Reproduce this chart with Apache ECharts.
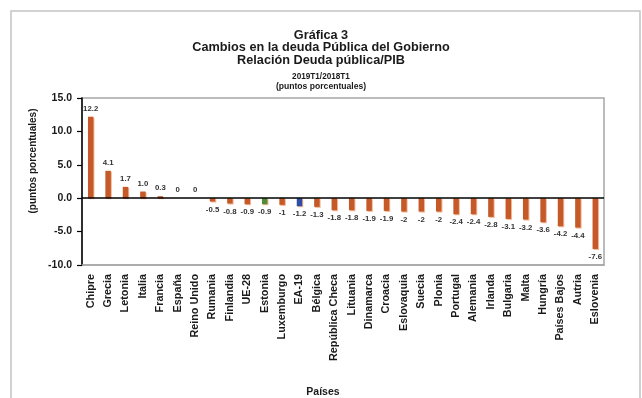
<!DOCTYPE html>
<html>
<head>
<meta charset="utf-8">
<script src="https://cdn.jsdelivr.net/npm/echarts@6/dist/echarts.min.js"></script>
<style>
  html, body { margin: 0; padding: 0; background: #fff; }
  #chart { width: 642px; height: 398px; }
</style>
</head>
<body>
<div id="chart"></div>
<script>
// Countries, ordered from largest increase to largest decrease
const countries = [
  'Chipre', 'Grecia', 'Letonia', 'Italia', 'Francia', 'España', 'Reino Unido',
  'Rumania', 'Finlandia', 'UE-28', 'Estonia', 'Luxemburgo', 'EA-19', 'Bélgica',
  'República Checa', 'Lituania', 'Dinamarca', 'Croacia', 'Eslovaquia', 'Suecia',
  'Plonia', 'Portugal', 'Alemania', 'Irlanda', 'Bulgaria', 'Malta', 'Hungría',
  'Países Bajos', 'Autria', 'Eslovenia'
];

// Change in debt/GDP ratio (percentage points), kept as printed
const changeText = [
  '12.2', '4.1', '1.7', '1.0', '0.3', '0', '0',
  '-0.5', '-0.8', '-0.9', '-0.9', '-1', '-1.2', '-1.3',
  '-1.8', '-1.8', '-1.9', '-1.9', '-2', '-2',
  '-2', '-2.4', '-2.4', '-2.8', '-3.1', '-3.2', '-3.6',
  '-4.2', '-4.4', '-7.6'
];
const changeValues = changeText.map(Number);

// Y axis range and step
const yMin = -10;
const yMax = 15;
const yStep = 5;

// Aggregates get their own colours
const highlightColors = { 'Estonia': '#548A36', 'EA-19': '#2E4DA3' };
const barColor = '#C55A28';

const chart = echarts.init(document.getElementById('chart'), null, { renderer: 'canvas' });

const barData = changeValues.map((v, i) => {
  const c = highlightColors[countries[i]] || barColor;
  return {
    value: v,
    itemStyle: { color: c },
    label: { position: v < 0 ? 'bottom' : 'top' }
  };
});

const boldFont = 'Liberation Sans, Arial, sans-serif';

chart.setOption({
  animation: false,
  backgroundColor: '#ffffff',
  title: [
    {
      text: 'Gráfica 3\nCambios en la deuda Pública del Gobierno\nRelación Deuda pública/PIB',
      left: 'center',
      top: 24,
      textStyle: { fontFamily: boldFont, fontWeight: 'bold', fontSize: 12.7, lineHeight: 12.6, color: '#1a1a1a' }
    },
    {
      text: '{a|2019T1/2018T1}\n{b|(puntos porcentuales)}',
      left: 'center',
      top: 66,
      textStyle: {
        rich: {
          a: { fontFamily: boldFont, fontWeight: 'bold', fontSize: 8.2, lineHeight: 10.5, color: '#1a1a1a', align: 'center' },
          b: { fontFamily: boldFont, fontWeight: 'bold', fontSize: 8.6, lineHeight: 10.5, color: '#1a1a1a', align: 'center' }
        }
      }
    }
  ],
  graphic: [
    {
      type: 'polyline',
      silent: true,
      shape: { points: [[11, 400], [11, 11], [640, 11], [640, 400]] },
      style: { stroke: '#c4c4c4', lineWidth: 1.5, fill: null }
    },
    {
      type: 'text',
      x: 33, y: 161,
      rotation: Math.PI / 2,
      style: {
        text: '(puntos porcentuales)',
        textAlign: 'center', textVerticalAlign: 'middle',
        font: 'bold 10px ' + boldFont, fill: '#1a1a1a'
      }
    },
    {
      type: 'text',
      x: 323, y: 392,
      style: {
        text: 'Países',
        textAlign: 'center', textVerticalAlign: 'middle',
        font: 'bold 10.5px ' + boldFont, fill: '#1a1a1a'
      }
    }
  ],
  grid: {
    left: 82, right: 38, top: 98, bottom: 133,
    show: true, borderColor: '#a6a6a6', borderWidth: 1.5, backgroundColor: 'transparent'
  },
  xAxis: {
    type: 'category',
    data: countries,
    axisLine: { onZero: false, lineStyle: { color: '#a6a6a6', width: 1.5 } },
    axisTick: { show: false },
    axisLabel: {
      rotate: 90,
      interval: 0,
      margin: 9,
      fontFamily: boldFont,
      fontWeight: 'bold',
      fontSize: 10.8,
      color: '#1a1a1a'
    },
    splitLine: { show: false }
  },
  yAxis: {
    type: 'value',
    min: yMin,
    max: yMax,
    interval: yStep,
    axisLine: { show: true, lineStyle: { color: '#000', width: 1.5 } },
    axisTick: { show: true, inside: false, length: 5, lineStyle: { color: '#000', width: 1.2 } },
    axisLabel: {
      margin: 10,
      formatter: v => v.toFixed(1),
      fontFamily: boldFont,
      fontWeight: 'bold',
      fontSize: 10.5,
      color: '#1a1a1a'
    },
    splitLine: { show: false }
  },
  series: [
    {
      type: 'bar',
      data: barData,
      barWidth: 5.5,
      itemStyle: {
        shadowColor: '#f3b898',
        shadowOffsetX: 1,
        shadowOffsetY: 1,
        shadowBlur: 0
      },
      label: {
        show: true,
        distance: 4,
        formatter: p => changeText[p.dataIndex],
        fontFamily: boldFont,
        fontWeight: 'bold',
        fontSize: 7.8,
        color: '#333'
      },
      markLine: {
        silent: true,
        symbol: 'none',
        label: { show: false },
        lineStyle: { color: '#000', width: 1.5, type: 'solid' },
        data: [{ yAxis: 0 }]
      }
    }
  ]
});
</script>
</body>
</html>
